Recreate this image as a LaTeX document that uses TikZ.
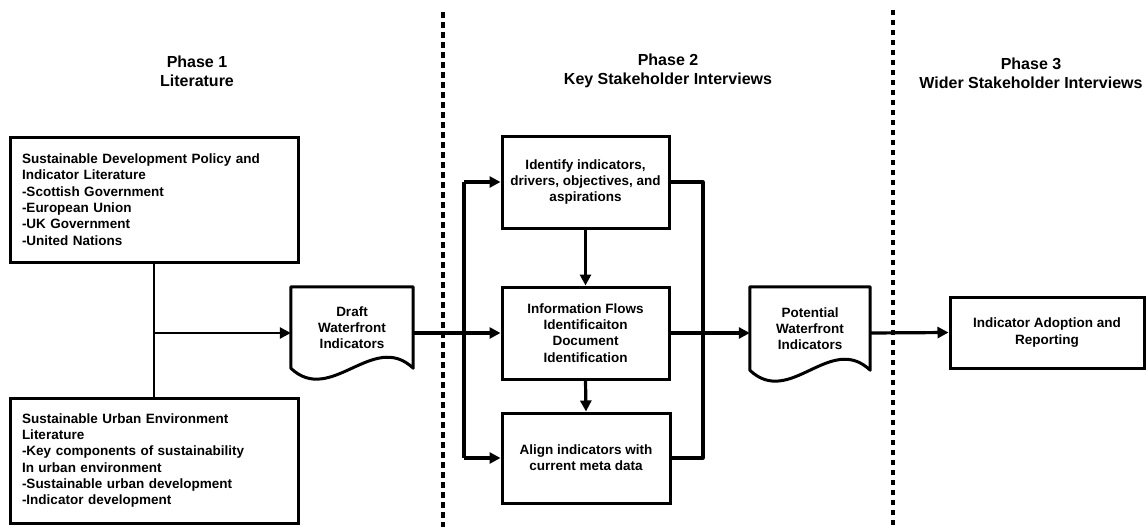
\documentclass[tikz,border=0pt]{standalone}
\usepackage{fontspec}
\setmainfont{Liberation Sans}
\usetikzlibrary{arrows.meta,calc}
\begin{document}
\begin{tikzpicture}[x=1pt,y=-1pt,
  box/.style={draw, line width=3pt, inner sep=0pt, font=\bfseries\fontsize{13.5}{16.3}\selectfont, align=center},
  doc/.style={inner sep=0pt, font=\bfseries\fontsize{13.5}{16.3}\selectfont, align=center},
  docline/.style={line width=3pt, line join=round},
  conn/.style={line width=3.2pt},
  arr/.style={conn, -{Triangle[length=11pt,width=11pt]}},
  phaseline/.style={dash pattern=on 6pt off 4pt, line width=3.5pt},
  head/.style={font=\bfseries\fontsize{16}{19}\selectfont, align=center}]
\useasboundingbox (0,0) rectangle (1146,527);

% headings
\node[head] (h1) at (197,71) {Phase 1\\Literature};
\node[head] (h2) at (668,71) {Phase 2\\Key Stakeholder Interviews};
\node[head] (h3) at (1031,73) {Phase 3\\Wider Stakeholder Interviews};

% phase separators
\coordinate (d1t) at (443,12); \coordinate (d1b) at (443,527);
\coordinate (d2t) at (893,10); \coordinate (d2b) at (893,527);
\draw[phaseline] (d1t) -- (d1b);
\draw[phaseline, dash pattern=on 5pt off 5pt] (d2t) -- (d2b);

% phase 1 boxes
\node[box, minimum width=288pt, minimum height=125pt, text width=264pt, align=left] (lit1) at (154,199.5)
  {Sustainable Development Policy and\\Indicator Literature\\-Scottish Government\\-European Union\\-UK Government\\-United Nations};
\node[box, minimum width=288pt, minimum height=125pt, text width=264pt, align=left] (lit2) at (154,460.5)
  {Sustainable Urban Environment\\Literature\\-Key components of sustainability\\In urban environment\\-Sustainable urban development\\-Indicator development};

% documents
\node[doc, minimum width=122pt, minimum height=81pt] (draft) at (352,327.5) {Draft\\Waterfront\\Indicators};
\draw[docline] (draft.south east) -- (draft.north east) -- (draft.north west) -- (draft.south west)
  .. controls ($(draft.south west)+(40,38)$) and ($(draft.south east)+(-40,-38)$) .. (draft.south east) -- cycle;
\node[doc, minimum width=120pt, minimum height=83pt] (pot) at (810,328.5) {Potential\\Waterfront\\Indicators};
\draw[docline] (pot.south east) -- (pot.north east) -- (pot.north west) -- (pot.south west)
  .. controls ($(pot.south west)+(40,38)$) and ($(pot.south east)+(-40,-38)$) .. (pot.south east) -- cycle;

% phase 2 boxes
\node[box, minimum width=167pt, minimum height=92pt] (ident) at (585.5,182) {Identify indicators,\\drivers, objectives, and\\aspirations};
\node[box, minimum width=167pt, minimum height=92pt] (info) at (585.5,333) {Information Flows\\Identificaiton\\Document\\Identification};
\node[box, minimum width=168pt, minimum height=90pt] (align) at (586,458) {Align indicators with\\current meta data};

% phase 3 box
\node[box, minimum width=194pt, minimum height=71pt] (final) at (1047,332.5) {Indicator Adoption and\\Reporting};

% connectors
\coordinate (j) at (lit1.south |- info.west);
\coordinate (sl) at (464,0);
\coordinate (sr) at (703,0);
\draw[conn, line width=2.6pt] (lit1.south) -- (lit2.north);
\draw[arr, line width=2.6pt] (j) -- (j -| draft.west);
\draw[arr] (draft.east |- info.west) -- (info.west);
\draw[conn] (sl |- ident.west) -- (sl |- align.west);
\draw[arr] (sl |- ident.west) -- (ident.west);
\draw[arr] (sl |- align.west) -- (align.west);
\draw[arr] (ident.south) -- (info.north);
\draw[arr] (info.south) -- (align.north);
\draw[conn, line join=round] (ident.east) -- (sr |- ident.east) -- (sr |- align.east) -- (align.east);
\draw[arr] (info.east) -- (info.east -| pot.west);
\draw[arr] (pot.east |- info.east) -- (final.west);
\end{tikzpicture}
\end{document}
